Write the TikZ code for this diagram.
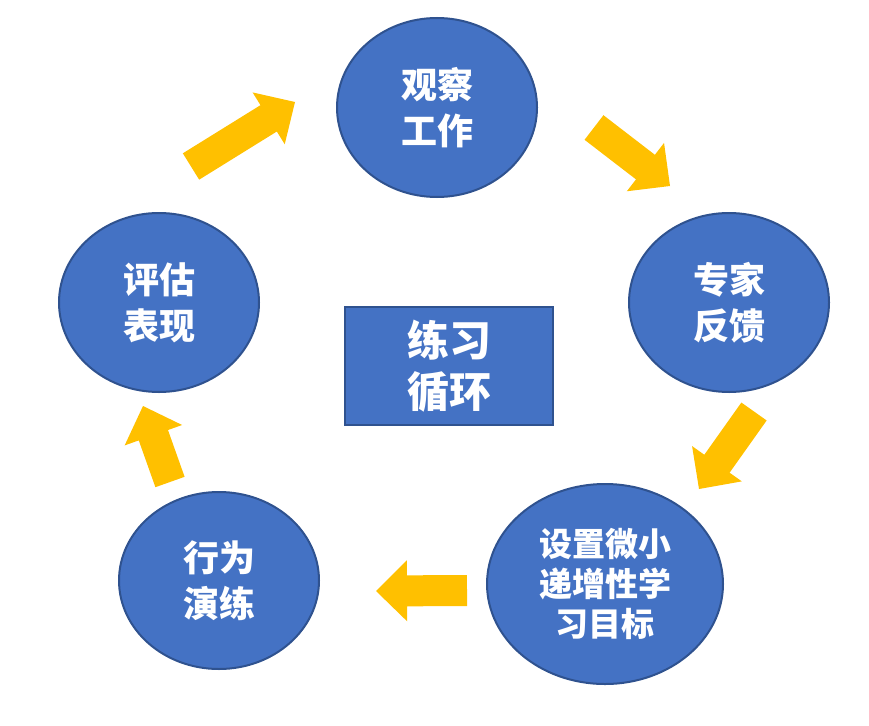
\documentclass[tikz,border=0pt]{standalone}
\usepackage{fontspec}
\newfontfamily\cjk{Noto Sans CJK SC}
\usetikzlibrary{shapes,arrows,positioning,calc}
\definecolor{stagefill}{HTML}{4472C4}
\definecolor{stageline}{HTML}{2F528F}
\definecolor{movegold}{HTML}{FFC000}
% block arrow: name, tail, tip
\newcommand{\goldarrow}[3]{%
  \coordinate (#1-s) at (#2);
  \coordinate (#1-e) at (#3);
  \coordinate (#1-b) at ($(#1-e)!31pt!(#1-s)$);
  \fill[movegold] ($(#1-s)!15.5pt!90:(#1-e)$) -- ($(#1-b)!15.5pt!90:(#1-e)$)
    -- ($(#1-b)!30.5pt!90:(#1-e)$) -- (#1-e) -- ($(#1-b)!30.5pt!-90:(#1-e)$)
    -- ($(#1-b)!15.5pt!-90:(#1-e)$) -- ($(#1-s)!15.5pt!-90:(#1-e)$) -- cycle;}

\begin{document}
\begin{tikzpicture}[x=1pt,y=-1pt,
  stage/.style={ellipse,draw=stageline,line width=2pt,fill=stagefill,text=white,
    align=center,inner sep=0pt,minimum width=200pt,minimum height=179pt,
    font=\cjk\bfseries\fontsize{36}{46}\selectfont}]
\useasboundingbox (0,0) rectangle (869,725);
% the five steps
\node[stage] (guan) at (437,107.5) {观察\\工作};
\node[stage] (zhuan) at (729,302.5) {专家\\反馈};
\node[stage,minimum width=236pt,minimum height=200pt,
  font=\cjk\bfseries\fontsize{33}{40}\selectfont] (she) at (605,584) {设置微小\\递增性学\\习目标};
\node[stage,minimum height=177pt] (xing) at (219,580.5) {行为\\演练};
\node[stage] (ping) at (159,302.5) {评估\\表现};
% centre box
\node[rectangle,draw=stageline,line width=2pt,fill=stagefill,text=white,align=center,
  minimum width=208pt,minimum height=118pt,
  font=\cjk\bfseries\fontsize{42}{51}\selectfont] (lian) at (449,366) {练习\\循环};
% arrows
\goldarrow{a1}{191,166.5}{295,102}
\goldarrow{a2}{594,127.5}{670,186}
\goldarrow{a3}{754,411.5}{699,489}
\goldarrow{a4}{467,590.5}{376,591}
\goldarrow{a5}{170,482}{143,406}
\end{tikzpicture}
\end{document}
